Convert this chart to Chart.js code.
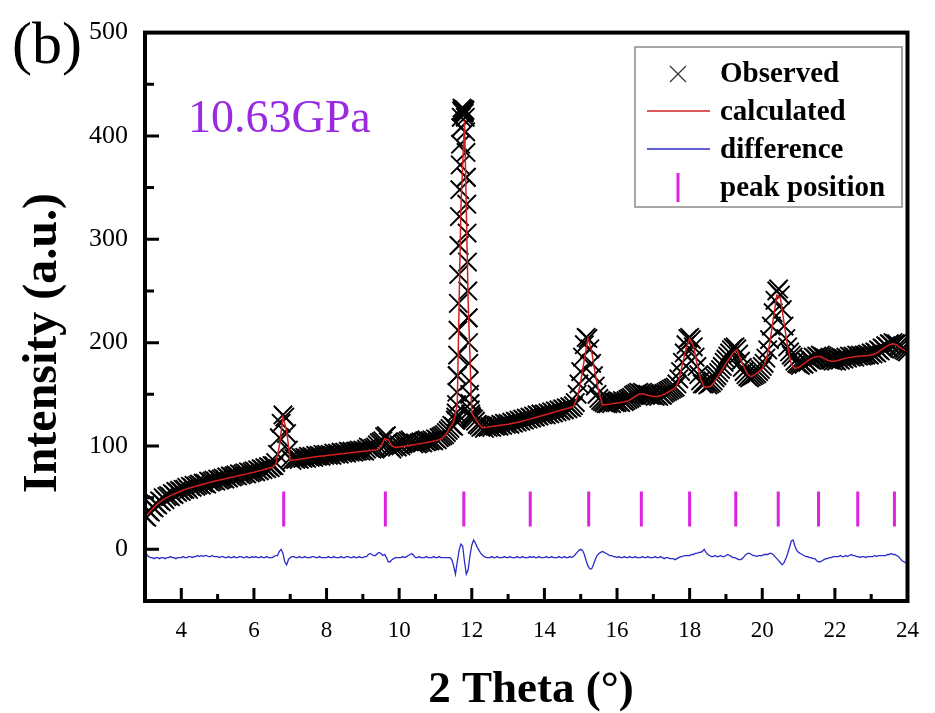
<!DOCTYPE html>
<html><head><meta charset="utf-8">
<script src="https://cdn.jsdelivr.net/npm/chart.js@4/dist/chart.umd.min.js"></script>
<style>html,body{margin:0;padding:0;background:#fff}canvas{display:block}</style>
</head><body>
<canvas id="c" width="935" height="713"></canvas>
<script>
// ---- data (2θ grids: start + step) ----
const thetaStart = 3.0;
const obsStep = 0.05;
const observed = [
32,31,37,36,41,40,44,43,47,46,50,48,51,52,51,54,53,56,55,57,
56,58,58,60,58,61,60,62,61,62,63,62,64,64,63,66,65,66,67,66,
68,67,68,69,68,70,69,71,70,71,72,71,73,72,73,74,73,75,74,75,
76,75,77,76,78,77,79,78,80,79,81,81,84,92,108,122,130,128,112,96,
88,86,88,87,88,87,89,88,89,88,90,89,90,89,91,90,91,90,92,91,
92,91,92,91,93,92,93,92,94,93,94,93,95,94,95,94,95,95,96,95,
96,95,97,99,98,97,98,99,101,103,104,105,109,110,104,99,97,99,100,99,
101,100,102,103,104,105,106,104,102,103,102,103,104,103,105,104,105,105,106,105,
107,106,108,109,110,111,113,115,117,120,119,125,168,294,408,423,424,360,224,141,
127,126,124,121,120,118,119,117,119,118,119,118,120,119,120,119,121,120,122,121,
122,121,123,122,124,123,125,124,126,125,127,126,128,127,129,128,130,129,131,130,
131,130,132,131,133,132,134,133,135,134,136,135,137,136,138,137,139,142,150,160,
172,186,198,205,204,194,180,168,158,150,146,144,143,142,141,141,142,141,143,142,
142,143,142,144,143,144,145,146,147,149,150,151,152,151,152,151,150,150,149,149,
149,148,149,148,150,149,151,152,153,154,155,156,157,160,165,172,181,190,198,204,
205,203,196,186,177,169,163,160,160,162,159,160,161,163,166,168,171,174,177,181,
184,187,190,193,195,196,194,189,182,176,172,169,167,166,167,168,169,170,172,174,
177,180,185,193,203,216,229,241,250,252,246,232,216,204,196,191,188,186,182,180,
179,178,180,179,182,181,184,183,186,185,187,186,188,187,186,185,184,183,183,182,
183,182,184,183,185,184,186,185,187,186,187,186,188,187,188,187,188,188,189,188,
190,189,191,190,193,192,195,194,197,196,199,198,200,199,199,197,196,194,193,192,
191];

const peakFineStart = 11.55;
const peakFineStep = 0.01;
const observedPeakFine = [
125,128,132,140,152,168,188,212,238,266,294,322,348,372,392,408,418,424,427,425,
423,424,426,425,422,424,425,418,404,384,360,334,306,278,250,224,200,180,163,150,
141,135,131,129,128,127];

const calcStep = 0.1;
const calculated = [
30,35,39,42.5,45.5,48,50,52,53.5,55,
56.5,58,59,60,61,62,63,64,65,65.8,
66.6,67.4,68.2,69,69.8,70.6,71.4,72.2,73,73.8,
74.6,75.5,76.4,77.4,78.4,79.4,82,100,128,115,
86,86.5,87,87.5,88,88.5,89,89.5,90,90.4,
90.8,91.2,91.6,92,92.4,92.8,93.2,93.6,94,94.4,
94.8,95.2,95.6,96,96.6,100,107,106,100,98.5,
99,99.5,100,100.6,101.2,101.8,102.4,103,103.6,104.3,
105,106,108,112,118,123,140,330,415,240,
132,126,121,117.5,118,118.5,119,119.5,120,120.5,
121,121.7,122.5,123.3,124.1,125,126,127,128,129,
130,131,132,133,134,135,136,137,138.5,146,
162,184,204,192,170,152,140,140,140.5,141,
141.5,142,142.5,143.5,145.5,148,150,150.5,149.5,148.5,
148,148,148.5,150,152,154,156,163,179,194,
204,197,180,165,157,157,158,163,168.5,174,
180,185,190,193,184,176,169,167,169,172,
175,182,198,222,246,243,219,196,179,175,
176,178.5,181,183.5,185.5,186.5,186.5,185,183,182,
182,183,184,185,185.5,186,186.5,187,187,187.5,
188,189,191,193.5,196,198,199,198,195,193,
191];

const diffStep = 0.05;
const difference = [
-3,-5,-7,-8,-8,-9,-8,-8,-9,-8,-8,-9,-8,-8,-7,-8,-8,-9,-8,-8,
-8,-7,-8,-8,-7,-7,-8,-7,-7,-6,-7,-6,-7,-6,-6,-7,-7,-6,-7,-7,
-7,-8,-7,-7,-8,-8,-7,-8,-8,-7,-8,-8,-7,-7,-8,-8,-7,-8,-8,-7,
-8,-7,-8,-8,-7,-8,-8,-7,-8,-8,-8,-7,-6,-6,-2,0,-4,-12,-15,-10,
-8,-7,-7,-8,-8,-7,-8,-8,-7,-8,-8,-8,-7,-7,-8,-8,-7,-8,-8,-8,
-8,-7,-8,-8,-7,-8,-8,-8,-7,-8,-8,-7,-7,-8,-8,-7,-8,-8,-7,-8,
-8,-7,-7,-5,-4,-5,-6,-6,-4,-3,-4,-6,-5,-8,-12,-12,-10,-9,-8,-8,
-8,-8,-7,-8,-7,-6,-5,-4,-6,-8,-8,-7,-8,-8,-8,-7,-8,-8,-8,-7,
-8,-8,-7,-8,-8,-8,-8,-8,-8,-10,-16,-24,-12,-1,5,3,-12,-24,-20,-6,
4,9,6,2,-1,-4,-6,-7,-8,-8,-8,-7,-8,-8,-7,-8,-8,-8,-7,-8,
-8,-7,-8,-8,-8,-7,-8,-8,-7,-8,-8,-8,-7,-8,-7,-8,-8,-7,-8,-8,
-8,-7,-8,-8,-7,-8,-8,-8,-7,-8,-8,-7,-8,-8,-7,-8,-7,-5,-3,-1,
0,-1,-5,-11,-16,-19,-19,-15,-10,-6,-4,-3,-2,-3,-4,-5,-6,-6,-7,-7,
-8,-7,-8,-8,-7,-8,-8,-7,-8,-8,-7,-8,-8,-8,-7,-8,-8,-7,-8,-8,
-8,-7,-8,-8,-7,-8,-9,-8,-8,-9,-9,-9,-10,-9,-8,-7,-7,-6,-6,-6,
-6,-5,-5,-4,-4,-3,-3,-2,0,-3,-5,-6,-7,-7,-6,-7,-7,-6,-7,-7,
-6,-5,-6,-7,-8,-8,-9,-10,-10,-9,-7,-5,-4,-4,-5,-6,-6,-7,-6,-6,
-6,-5,-5,-5,-4,-4,-5,-7,-9,-11,-13,-15,-13,-9,-4,2,8,9,3,-1,
-3,-4,-5,-6,-7,-7,-8,-8,-9,-9,-11,-12,-12,-11,-10,-9,-9,-8,-8,-7,
-7,-7,-7,-6,-7,-7,-6,-7,-6,-5,-6,-6,-7,-7,-8,-7,-7,-8,-7,-7,
-7,-7,-6,-7,-6,-6,-6,-6,-6,-5,-5,-4,-5,-5,-6,-7,-9,-11,-12,-13,
-14];

const peakPositions = [6.82, 9.62, 11.78, 13.61, 15.22, 16.67, 18.0, 19.27, 20.44, 21.55, 22.63, 23.64];
const peakTickLow = 22, peakTickHigh = 56;

const xTicks = [4, 6, 8, 10, 12, 14, 16, 18, 20, 22, 24];
const xMinorTicks = [5, 7, 9, 11, 13, 15, 17, 19, 21, 23];
const yTicks = [0, 100, 200, 300, 400, 500];
const yMinorTicks = [50, 150, 250, 350, 450];

const seriesNames = ['Observed', 'calculated', 'difference', 'peak position'];
const panelLabel = '(b)';
const pressureLabel = '10.63GPa';
const xTitle = '2 Theta (\u00B0)';
const yTitle = 'Intensity (a.u.)';

// ---- helpers ----
function gridPoints(start, step, values) {
  return values.map((v, i) => ({ x: Math.round((start + i * step) * 1000) / 1000, y: v }));
}
const obsPoints = gridPoints(thetaStart, obsStep, observed).concat(gridPoints(peakFineStart, peakFineStep, observedPeakFine));
const calcPoints = gridPoints(thetaStart, calcStep, calculated);
const diffPoints = gridPoints(thetaStart, diffStep, difference);
const tickPoints = [];
peakPositions.forEach(p => { tickPoints.push({x: p, y: peakTickLow}, {x: p, y: peakTickHigh}, {x: p, y: null}); });

const SERIF = '"Liberation Serif", "Times New Roman", serif';
const COL = { obs: '#000000', calc: '#d42020', diff: '#2c2cc8', tick: '#dd22e0', label: '#9a2ae2' };

const decor = {
  id: 'decor',
  afterDatasetsDraw(chart) {
    const ctx = chart.ctx, a = chart.chartArea, xs = chart.scales.x, ys = chart.scales.y;
    ctx.save();
    // frame
    ctx.strokeStyle = '#000'; ctx.lineWidth = 4;
    ctx.strokeRect(a.left, a.top, a.right - a.left, a.bottom - a.top);
    // inward ticks
    ctx.lineWidth = 3; ctx.lineCap = 'butt';
    ctx.beginPath();
    xTicks.forEach(v => { const p = xs.getPixelForValue(v); ctx.moveTo(p, a.bottom); ctx.lineTo(p, a.bottom - 13); });
    xMinorTicks.forEach(v => { const p = xs.getPixelForValue(v); ctx.moveTo(p, a.bottom); ctx.lineTo(p, a.bottom - 7); });
    yTicks.forEach(v => { const p = ys.getPixelForValue(v); ctx.moveTo(a.left, p); ctx.lineTo(a.left + 14, p); });
    yMinorTicks.forEach(v => { const p = ys.getPixelForValue(v); ctx.moveTo(a.left, p); ctx.lineTo(a.left + 9, p); });
    ctx.stroke();

    // legend
    const lx = 635, ly = 47, lw = 267, lh = 160;
    ctx.fillStyle = '#fff'; ctx.fillRect(lx, ly, lw, lh);
    ctx.strokeStyle = '#8a8a8a'; ctx.lineWidth = 1.5; ctx.strokeRect(lx, ly, lw, lh);
    const rows = [82, 120, 158, 196];
    const sx = 678;
    ctx.strokeStyle = '#333'; ctx.lineWidth = 1.2;
    ctx.beginPath(); ctx.moveTo(sx - 8, 66); ctx.lineTo(sx + 8, 82); ctx.moveTo(sx + 8, 66); ctx.lineTo(sx - 8, 82); ctx.stroke();
    ctx.strokeStyle = COL.calc; ctx.lineWidth = 1.5;
    ctx.beginPath(); ctx.moveTo(647, 111); ctx.lineTo(710, 111); ctx.stroke();
    ctx.strokeStyle = COL.diff; ctx.lineWidth = 1.5;
    ctx.beginPath(); ctx.moveTo(647, 149); ctx.lineTo(710, 149); ctx.stroke();
    ctx.strokeStyle = COL.tick; ctx.lineWidth = 3;
    ctx.beginPath(); ctx.moveTo(sx, 173); ctx.lineTo(sx, 202); ctx.stroke();
    ctx.fillStyle = '#000'; ctx.font = 'bold 29px ' + SERIF; ctx.textAlign = 'left'; ctx.textBaseline = 'alphabetic';
    seriesNames.forEach((n, i) => ctx.fillText(n, 720, rows[i]));

    // panel & pressure labels
    ctx.font = '60px ' + SERIF; ctx.fillStyle = '#000';
    ctx.fillText(panelLabel, 12, 63);
    ctx.font = '46px ' + SERIF; ctx.fillStyle = COL.label;
    ctx.fillText(pressureLabel, 188, 132);

    // axis titles
    ctx.fillStyle = '#000'; ctx.font = 'bold 45px ' + SERIF;
    ctx.textAlign = 'center';
    ctx.fillText(xTitle, 531, 702);
    ctx.save();
    ctx.font = 'bold 48px ' + SERIF;
    ctx.translate(56, 493); ctx.rotate(-Math.PI / 2);
    ctx.textAlign = 'left';
    ctx.fillText(yTitle, 0, 0);
    ctx.restore();
    ctx.restore();
  }
};

new Chart(document.getElementById('c'), {
  type: 'line',
  data: {
    datasets: [
      { label: seriesNames[1], data: calcPoints, borderColor: COL.calc, borderWidth: 1.5, pointRadius: 0, tension: 0, order: 0 },
      { label: seriesNames[0], data: obsPoints, showLine: false, pointStyle: 'crossRot', pointRadius: 13, pointBorderWidth: 1.9, pointBorderColor: COL.obs, borderColor: COL.obs, backgroundColor: COL.obs, order: 1 },
      { label: seriesNames[2], data: diffPoints, borderColor: COL.diff, borderWidth: 1.3, pointRadius: 0, tension: 0, order: 2 },
      { label: seriesNames[3], data: tickPoints, borderColor: COL.tick, borderWidth: 3, pointRadius: 0, spanGaps: false, order: 3 }
    ]
  },
  options: {
    responsive: false, animation: false, devicePixelRatio: 1,
    layout: { padding: { left: 0, top: 31, right: 17, bottom: 0 } },
    plugins: { legend: { display: false }, tooltip: { enabled: false } },
    events: [],
    scales: {
      x: {
        type: 'linear', min: 3, max: 24,
        afterBuildTicks: s => { s.ticks = xTicks.map(v => ({ value: v })); },
        afterFit: s => { s.height = 112; },
        grid: { display: false, drawTicks: false }, border: { display: false },
        ticks: { padding: 16, color: '#000', font: { family: SERIF, size: 23 }, maxRotation: 0, autoSkip: false }
      },
      y: {
        type: 'linear', min: -50, max: 500,
        afterBuildTicks: s => { s.ticks = yTicks.map(v => ({ value: v })); },
        afterFit: s => { s.width = 145; },
        grid: { display: false, drawTicks: false }, border: { display: false },
        ticks: { padding: 17, color: '#000', font: { family: SERIF, size: 26 } }
      }
    }
  },
  plugins: [decor]
});
</script>
</body></html>
